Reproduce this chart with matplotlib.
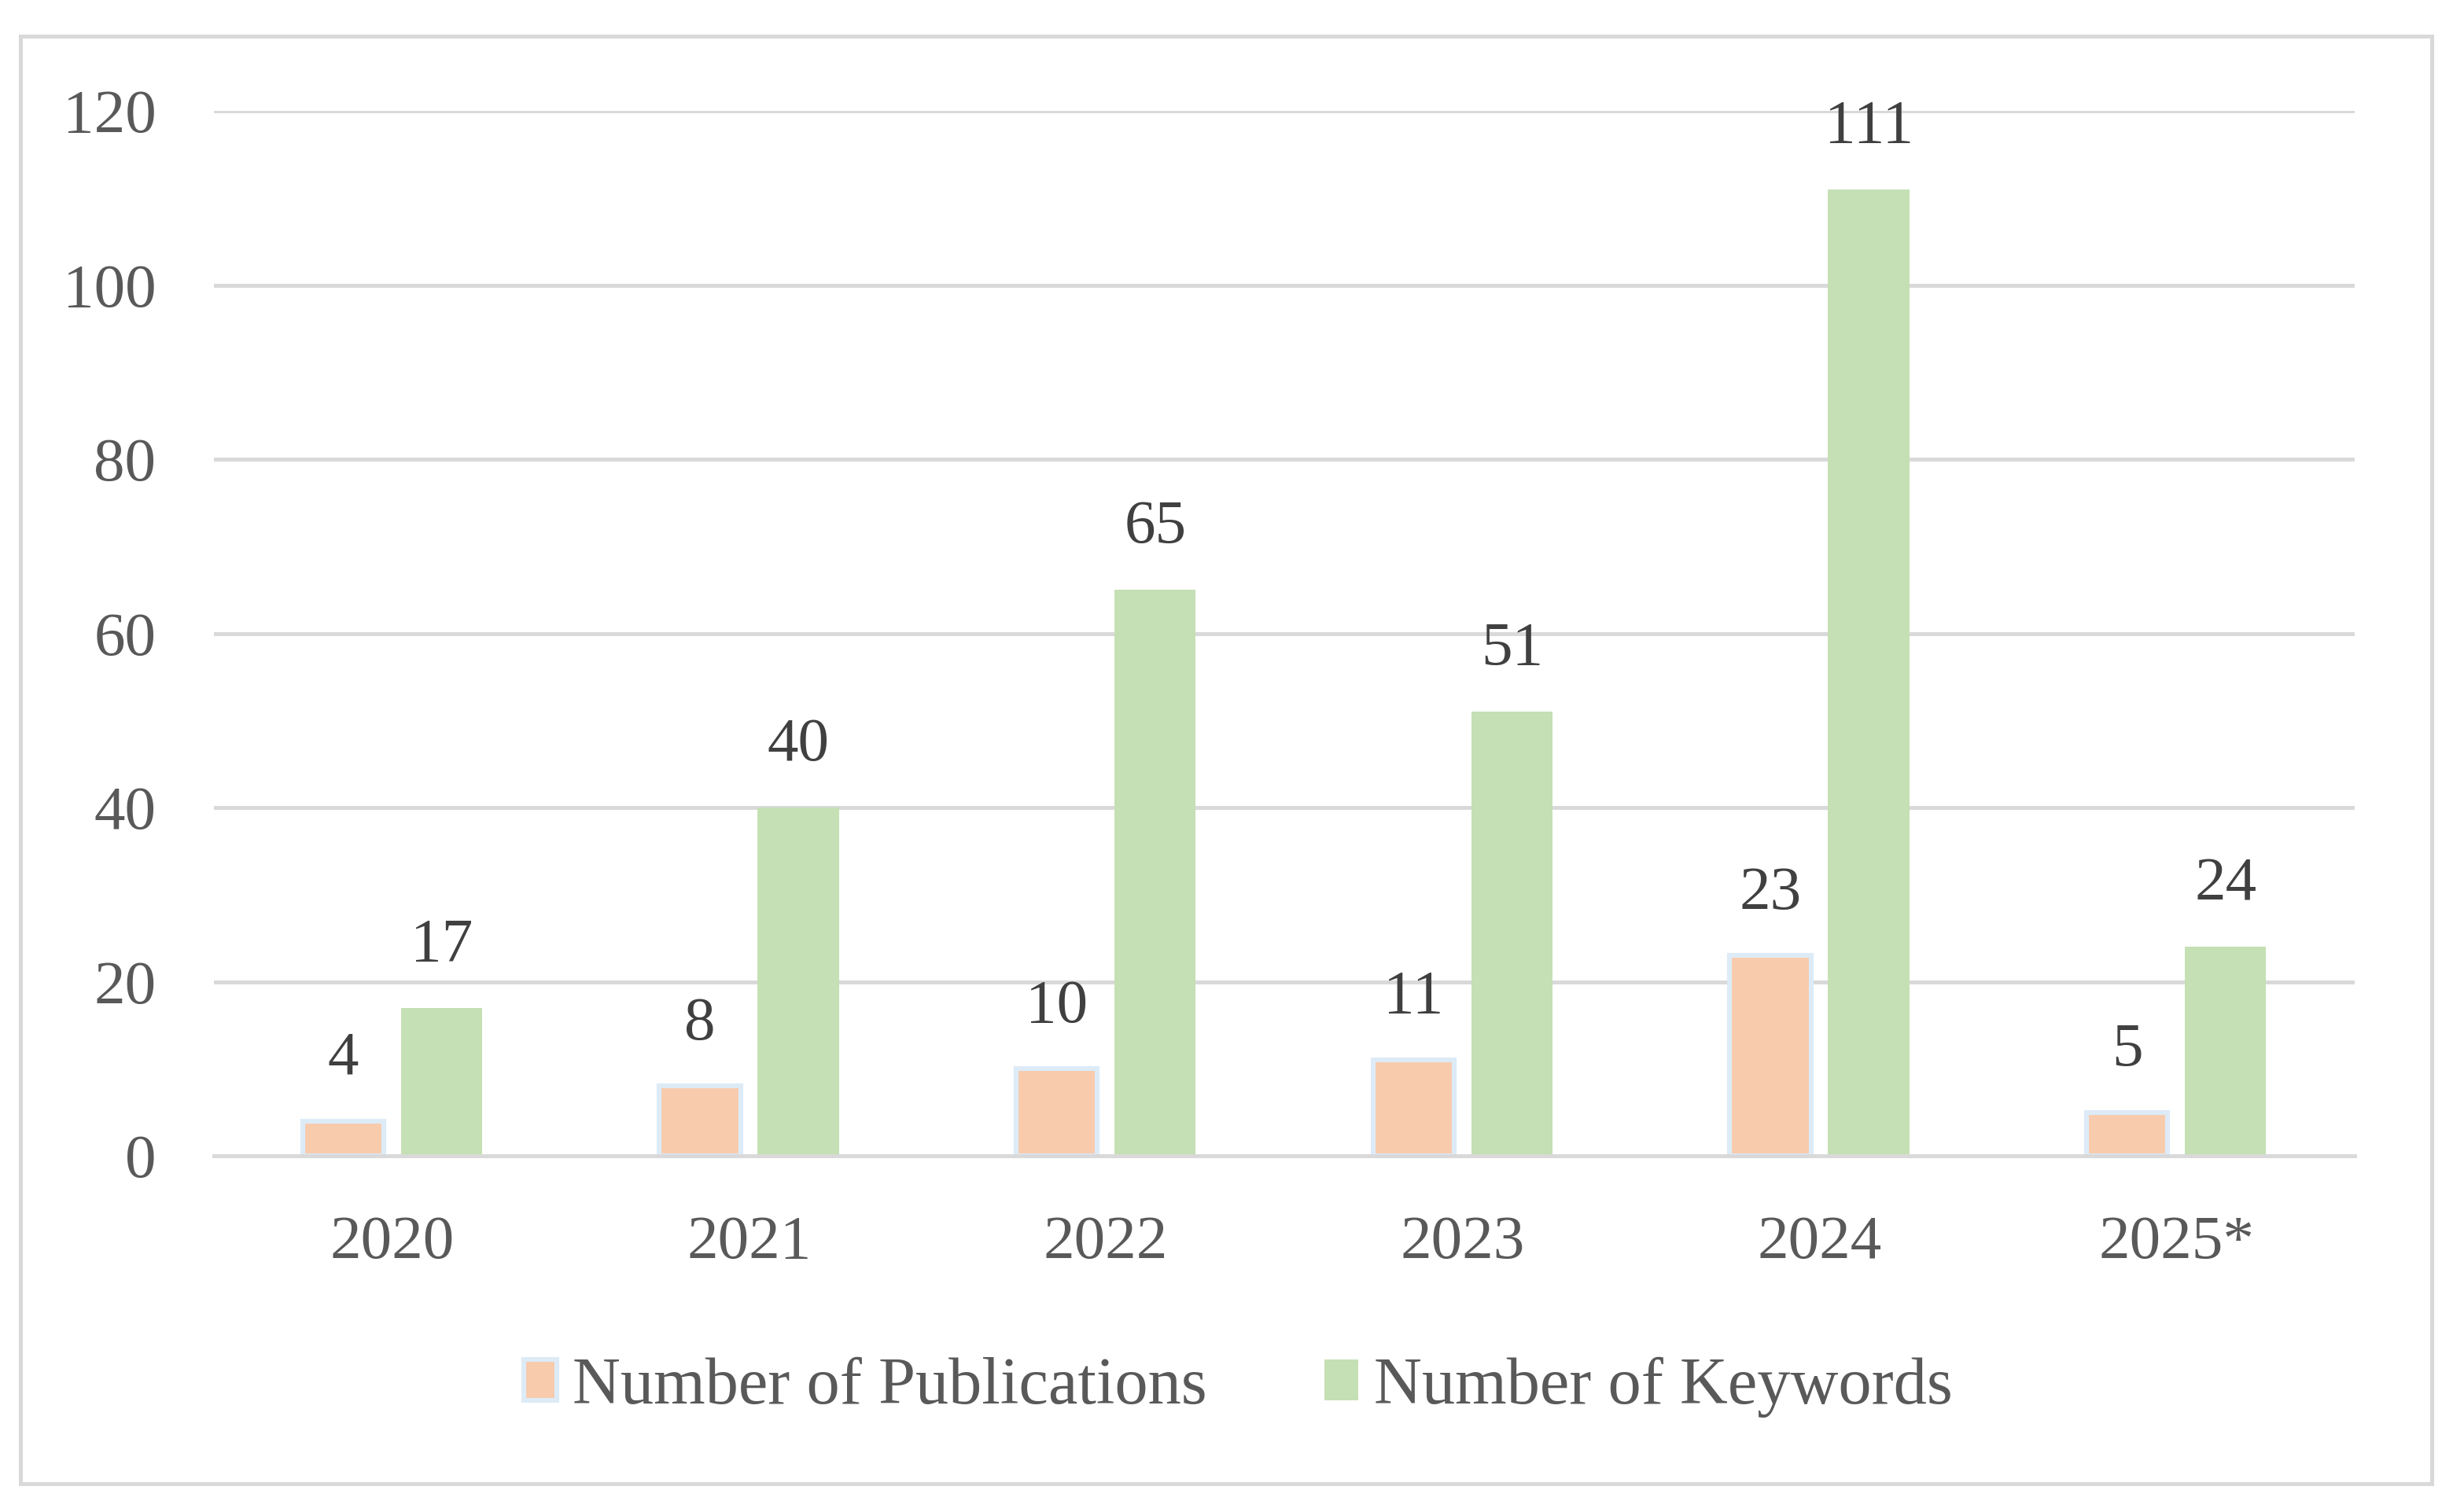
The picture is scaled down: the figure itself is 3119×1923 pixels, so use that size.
import matplotlib
matplotlib.use("Agg")
import matplotlib.pyplot as plt
import numpy as np
from matplotlib.patches import Rectangle

years = ["2020", "2021", "2022", "2023", "2024", "2025*"]
publications = [4, 8, 10, 11, 23, 5]
keywords = [17, 40, 65, 51, 111, 24]
yticks = [0, 20, 40, 60, 80, 100, 120]

plt.rcParams['font.family'] = ['Liberation Serif', 'DejaVu Serif']

W, H, DPI = 3119, 1923, 200
fig = plt.figure(figsize=(W / DPI, H / DPI), dpi=DPI)
fig.patch.set_facecolor('white')

# outer border
fig.add_artist(Rectangle((26 / W, 1 - 1887 / H), (3092 - 26) / W, (1887 - 46) / H,
                         transform=fig.transFigure, fill=False,
                         edgecolor='#D9D9D9', linewidth=1.8))

left, right = 272 / W, 2994 / W
bottom, top = 1 - 1470 / H, 1 - 141 / H
ax = fig.add_axes([left, bottom, right - left, top - bottom])

x = np.arange(len(years))
bw = 0.228
off = 0.138
orange = '#F8CBAD'
green = '#C5E0B4'
edge = '#DDEBF7'

b1 = ax.bar(x - off, publications, bw, color=orange, edgecolor=edge, linewidth=2.2,
            label='Number of Publications', zorder=3)
b2 = ax.bar(x + off, keywords, bw, color=green, linewidth=0,
            label='Number of Keywords', zorder=3)

for bars, vals in ((b1, publications), (b2, keywords)):
    for r, v in zip(bars, vals):
        ax.annotate(str(v), (r.get_x() + r.get_width() / 2, v),
                    xytext=(0, 21.5), textcoords='offset points',
                    ha='center', va='baseline', fontsize=28.5, color='#404040')

ax.set_xlim(-0.5, len(years) - 0.5)
ax.set_ylim(0, 120)
ax.set_yticks(yticks)
ax.set_xticks(x)
ax.set_xticklabels(years)
ax.tick_params(axis='both', length=0, labelsize=28.5, labelcolor='#595959')
ax.tick_params(axis='x', pad=27)
ax.tick_params(axis='y', pad=26.5)
ax.yaxis.grid(True, color='#D9D9D9', linewidth=1.8, zorder=0)
ax.set_axisbelow(True)
for s in ['left', 'right', 'top']:
    ax.spines[s].set_visible(False)
ax.spines['bottom'].set_color('#D9D9D9')
ax.spines['bottom'].set_linewidth(1.8)
ax.spines['bottom'].set_zorder(4)

leg = fig.legend(handles=[b1, b2], loc='center', bbox_to_anchor=(0.5047, 1 - 1764 / H),
                 ncol=2, frameon=False, fontsize=30.4, handlelength=0.5,
                 handleheight=0.57, handletextpad=0.24, columnspacing=1.77,
                 borderpad=0, borderaxespad=0)
for t in leg.get_texts():
    t.set_color('#595959')

fig.savefig('out.png', dpi=DPI, facecolor='white')
